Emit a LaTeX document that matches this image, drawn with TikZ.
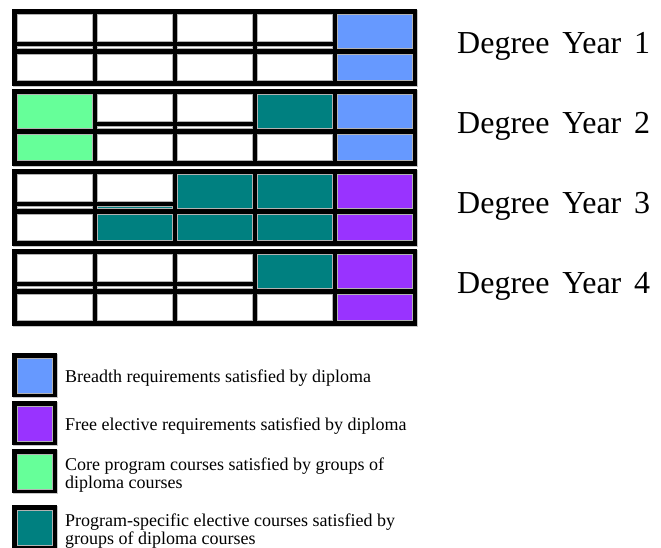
\documentclass[tikz,border=0pt]{standalone}
\usepackage{fontspec}
\setmainfont{Liberation Serif}
\definecolor{breadth}{HTML}{6699FF}
\definecolor{freeel}{HTML}{9933FF}
\definecolor{core}{HTML}{66FF99}
\definecolor{progel}{HTML}{008080}

\begin{document}
\begin{tikzpicture}[x=1pt, y=-1pt,
  cell/.style={draw=black!30, line width=0.5pt},
  shade/.style={fill=black!22},
  yearlabel/.style={anchor=base west, inner sep=0pt, font={\fontsize{32}{36}\selectfont\spaceskip 0.4em\relax}},
  legendtext/.style={anchor=base west, inner sep=0pt, font=\fontsize{18}{18}\selectfont}]

\useasboundingbox (0,0) rectangle (661,548);

% Draw the four year blocks
\foreach \b in {0,...,3} {
  \fill[shade] (13,{10+80*\b}) rectangle ++(405,77);
  \fill[black] (12,{9+80*\b}) rectangle ++(405,77);
}

% Fill the cells: block/column/split/upper/sliver/lower
\foreach \b/\c/\s/\up/\mid/\low in {
  0/0/1/white/white/white, 0/1/1/white/white/white, 0/2/1/white/white/white,
  0/3/1/white/white/white, 0/4/0/breadth/breadth/breadth,
  1/0/0/core/core/core, 1/1/1/white/white/white, 1/2/1/white/white/white,
  1/3/0/progel/progel/white, 1/4/0/breadth/breadth/breadth,
  2/0/1/white/white/white, 2/1/1/white/progel/progel, 2/2/0/progel/progel/progel,
  2/3/0/progel/progel/progel, 2/4/0/freeel/freeel/freeel,
  3/0/1/white/white/white, 3/1/1/white/white/white, 3/2/1/white/white/white,
  3/3/0/progel/progel/white, 3/4/0/freeel/freeel/freeel} {
  \pgfmathsetmacro{\xl}{17+80*\c}
  \pgfmathsetmacro{\yt}{9+80*\b}
  \ifnum\s=1
    \draw[cell, fill=\up] (\xl,\yt+5) rectangle ++(75,27);
    \draw[cell, fill=\mid] (\xl,\yt+37) rectangle ++(75,2.7);
  \else
    \draw[cell, fill=\up] (\xl,\yt+5) rectangle ++(75,34.7);
  \fi
  \draw[cell, fill=\low] (\xl,\yt+45) rectangle ++(75,26.7);
}

% Year labels
\foreach \n in {1,...,4}
  \node[yearlabel] (year\n) at (457,{53.3+80*(\n-1)}) {Degree Year \n};

% Legend boxes
\foreach \y/\col in {353/breadth, 401/freeel, 449/core, 505/progel} {
  \fill[shade] (13,\y+1) rectangle ++(45,44);
  \fill[black] (12,\y) rectangle ++(45,44);
  \draw[cell, fill=\col] (17,\y+5) rectangle ++(35,35);
}

% Legend texts
\node[legendtext] (breadthtext) at (65,382.7) {Breadth requirements satisfied by diploma};
\node[legendtext] (freetext) at (65,430.7) {Free elective requirements satisfied by diploma};
\node[legendtext] (coretext) at (65,470) {Core program courses satisfied by groups of};
\node[legendtext] (coretexttwo) at (65,488.3) {diploma courses};
\node[legendtext] (progtext) at (65,526.7) {Program-specific elective courses satisfied by};
\node[legendtext] (progtexttwo) at (65,544.3) {groups of diploma courses};
\end{tikzpicture}
\end{document}
